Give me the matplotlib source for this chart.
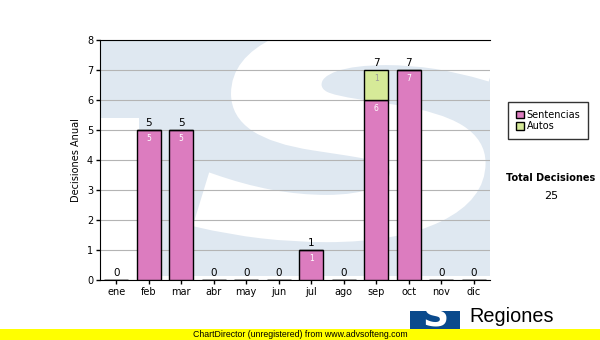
import numpy as np
import matplotlib.pyplot as plt
from matplotlib.patches import Rectangle, PathPatch
from matplotlib.textpath import TextPath
from matplotlib.font_manager import FontProperties
from matplotlib.transforms import Affine2D

meses = ['ene', 'feb', 'mar', 'abr', 'may', 'jun', 'jul', 'ago', 'sep', 'oct', 'nov', 'dic']
sentencias = [0, 5, 5, 0, 0, 0, 1, 0, 6, 7, 0, 0]
autos = [0, 0, 0, 0, 0, 0, 0, 0, 1, 0, 0, 0]
total = sum(sentencias) + sum(autos)

pink = '#dc7cbf'
green = '#d6ea98'
wm_blue = '#dfe8f1'

fig = plt.figure(figsize=(6, 3.4), dpi=100)
fig.patch.set_facecolor('white')

# plot area in pixels: x 100..490, y 40..280
ax = fig.add_axes([100 / 600, 1 - 280 / 340, 390 / 600, 240 / 340])

def px(x, y):
    return (x - 100) / 390, (280 - y) / 240

# watermark: light blue block with a white S
x0, y0 = px(100, 276)
ax.add_patch(Rectangle((x0, y0), 1, px(0, 40)[1] - y0, transform=ax.transAxes,
                       facecolor=wm_blue, edgecolor='none', zorder=0))
lx, ly = px(100, 280)
ax.add_patch(Rectangle((lx, ly), px(139, 0)[0], px(0, 118)[1] - ly, transform=ax.transAxes,
                       facecolor='white', edgecolor='none', zorder=0.1))
tp = TextPath((0, 0), 'S', size=1,
              prop=FontProperties(family='DejaVu Sans', weight='bold', style='oblique'))
ext = tp.get_extents()
sx0, sy_top = px(198, 22)
sx1, sy_bot = px(500, 238)
tr = (Affine2D().translate(-ext.x0, -ext.y0)
      .scale((sx1 - sx0) / ext.width, (sy_top - sy_bot) / ext.height)
      .translate(sx0, sy_bot))
ax.add_patch(PathPatch(tr.transform_path(tp), transform=ax.transAxes,
                       facecolor='white', edgecolor='white', linewidth=6, zorder=0.2))

x = np.arange(len(meses))
w = 0.74
ax.bar(x, sentencias, w, color=pink, edgecolor='black', linewidth=1, zorder=3, label='Sentencias')
ax.bar(x, autos, w, bottom=sentencias, color=green, edgecolor='black', linewidth=1, zorder=3, label='Autos')

for i in range(len(meses)):
    tot = sentencias[i] + autos[i]
    ax.text(x[i], tot + 0.05, str(tot), ha='center', va='bottom', fontsize=7.5, color='black', zorder=4)
    if sentencias[i] > 0:
        ax.text(x[i], sentencias[i] - 0.12, str(sentencias[i]), ha='center', va='top',
                fontsize=5.5, color='white', zorder=4)
    if autos[i] > 0:
        ax.text(x[i], sentencias[i] + autos[i] - 0.12, str(autos[i]), ha='center', va='top',
                fontsize=5.5, color='#999999', zorder=4)

ax.set_xlim(-0.5, len(meses) - 0.5)
ax.set_ylim(0, 8)
ax.set_yticks(range(9))
ax.set_xticks(x)
ax.set_xticklabels(meses)
ax.tick_params(axis='both', labelsize=7, length=3, width=1, color='black', pad=2)
ax.yaxis.grid(True, color='#b4b4b4', linewidth=0.8, zorder=1)
ax.set_axisbelow(True)
ax.set_facecolor('white')
ax.spines['right'].set_visible(False)
ax.spines['top'].set_color('black')
ax.set_ylabel('Decisiones Anual', fontsize=7, labelpad=4)

fig.legend(loc='upper left', bbox_to_anchor=(508 / 600, 1 - 102 / 340), fontsize=7,
           frameon=True, fancybox=False, edgecolor='black', handlelength=0.8, handleheight=0.8,
           handletextpad=0.3, borderpad=0.8, labelspacing=0.15, borderaxespad=0)

fig.text(551 / 600, 1 - 178 / 340, 'Total Decisiones', ha='center', va='center',
         fontsize=7, fontweight='bold')
fig.text(551 / 600, 1 - 196 / 340, str(total), ha='center', va='center', fontsize=8)

# footer logo
fig.patches.append(Rectangle((410 / 600, 0), 50 / 600, 29 / 340, transform=fig.transFigure,
                             facecolor='#0a4a8c', edgecolor='none', zorder=1))
fig.text(435 / 600, 1 - 332 / 340, 'S', ha='center', va='bottom', fontsize=26,
         fontweight='bold', family='DejaVu Sans', color='white', zorder=2)
fig.text(469 / 600, 1 - 317 / 340, 'Regiones', ha='left', va='center', fontsize=14.3,
         family='Liberation Sans', color='black')

fig.patches.append(Rectangle((0, 0), 1, 11 / 340, transform=fig.transFigure,
                             facecolor='#ffff00', edgecolor='none', zorder=5))
fig.text(0.5, 5.5 / 340, 'ChartDirector (unregistered) from www.advsofteng.com', ha='center',
         va='center', fontsize=6.3, family='Liberation Sans', color='black', zorder=6)

fig.savefig('out.png', dpi=100)
